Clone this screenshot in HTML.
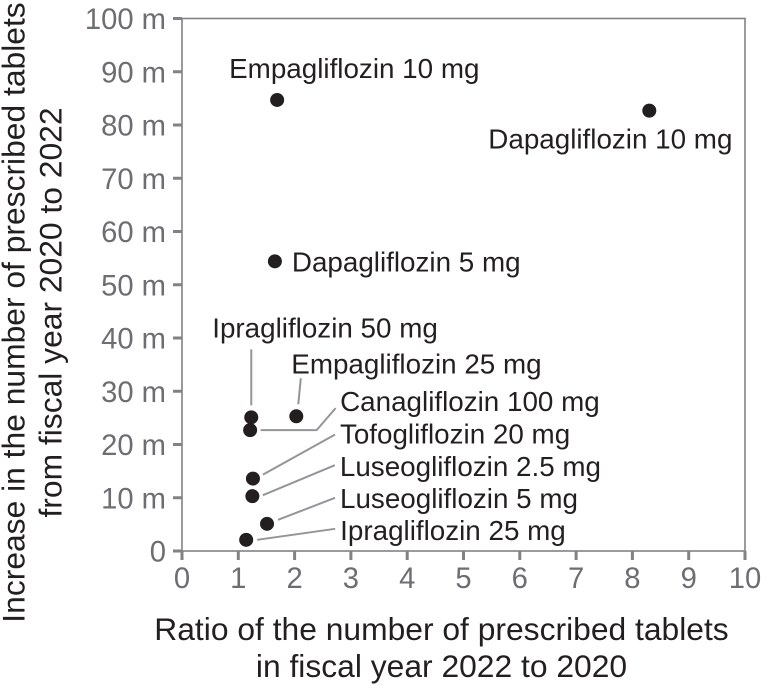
<!DOCTYPE html>
<html lang="en">
<head>
<meta charset="utf-8">
<title>Prescribed tablets scatter chart</title>
<style>
html,body{margin:0;padding:0;background:#fff;width:763px;height:685px;overflow:hidden}
svg{display:block;font-family:"Liberation Sans",sans-serif}
.tick{font-size:29.2px;fill:#6d6e71}
.lab{font-size:27.8px;fill:#231f20}
.title{font-size:31.8px;fill:#231f20}
</style>
</head>
<body>
<svg id="chart" width="763" height="685" viewBox="0 0 763 685" xmlns="http://www.w3.org/2000/svg">
  <text class="title" transform="translate(24.5 312.5) rotate(-90)" text-anchor="middle">Increase in the number of prescribed tablets</text>
  <text class="title" transform="translate(61.5 312.5) rotate(-90)" text-anchor="middle">from fiscal year 2020 to 2022</text>
  <text class="title" x="441.5" y="640" text-anchor="middle">Ratio of the number of prescribed tablets</text>
  <text class="title" x="441.5" y="677" text-anchor="middle">in fiscal year 2022 to 2020</text>
</svg>
<script>
const xTicks = [0, 1, 2, 3, 4, 5, 6, 7, 8, 9, 10];
const yTicks = [0, 10, 20, 30, 40, 50, 60, 70, 80, 90, 100];
const yTickLabels = ['0', '10 m', '20 m', '30 m', '40 m', '50 m', '60 m', '70 m', '80 m', '90 m', '100 m'];
const drugs = ['Empagliflozin 10 mg', 'Dapagliflozin 10 mg', 'Dapagliflozin 5 mg', 'Ipragliflozin 50 mg', 'Empagliflozin 25 mg', 'Canagliflozin 100 mg', 'Tofogliflozin 20 mg', 'Luseogliflozin 2.5 mg', 'Luseogliflozin 5 mg', 'Ipragliflozin 25 mg'];
const ratios = [1.69, 8.30, 1.65, 1.23, 2.03, 1.21, 1.26, 1.25, 1.51, 1.14];
const increases = [84.7, 82.7, 54.4, 25.1, 25.3, 22.7, 13.6, 10.3, 5.1, 2.1];

const plot = { left: 182, right: 745, top: 18.5, bottom: 551 };
const xScale = v => plot.left + (v / 10) * (plot.right - plot.left);
const yScale = v => plot.bottom - (v / 100) * (plot.bottom - plot.top);

// Annotation layout, relative to each point: label anchor and leader-line vertices.
const annotationLayout = [
  { tx: -48, ty: -22, leader: [] },
  { tx: -161, ty: 38, leader: [] },
  { tx: 17, ty: 10, leader: [] },
  { tx: -39, ty: -80, leader: [[0, -12], [0, -68]] },
  { tx: -5, ty: -43, leader: [[2, -12], [4.5, -38]] },
  { tx: 90, ty: -19, leader: [[10.5, 0], [66.5, 0], [85.5, -22]] },
  { tx: 87, ty: -35, leader: [[10, -4], [82, -44]] },
  { tx: 87.5, ty: -20, leader: [[10.5, -1], [82.5, -31]] },
  { tx: 73, ty: -16, leader: [[11, -4], [68, -26]] },
  { tx: 94, ty: 0, leader: [[11, 0], [89, -11]] }
];

const svg = document.getElementById('chart');
const NS = 'http://www.w3.org/2000/svg';
function make(tag, attrs, parent) {
  const el = document.createElementNS(NS, tag);
  for (const k in attrs) el.setAttribute(k, attrs[k]);
  (parent || svg).appendChild(el);
  return el;
}

const frame = make('rect', { x: plot.left, y: plot.top, width: plot.right - plot.left, height: plot.bottom - plot.top, fill: 'none', stroke: '#808285', 'stroke-width': 1.6 });



xTicks.forEach(v => {
  const x = xScale(v);
  const t = make('line', { x1: x, x2: x, y1: plot.bottom, y2: plot.bottom + 9, stroke: '#808285', 'stroke-width': 3 });
  
  
  const l = make('text', { x: x, y: plot.bottom + 37, 'text-anchor': 'middle', class: 'tick' });
  l.textContent = String(v);
  
  
});

yTicks.forEach((v, i) => {
  const y = yScale(v);
  const t = make('line', { x1: plot.left - 9, x2: plot.left, y1: y, y2: y, stroke: '#808285', 'stroke-width': 3 });
  
  
  const l = make('text', { x: 166, y: y + 10.5, 'text-anchor': 'end', class: 'tick' });
  l.textContent = yTickLabels[i];
  
  
});

drugs.forEach((name, i) => {
  const px = xScale(ratios[i]);
  const py = yScale(increases[i]);
  const layout = annotationLayout[i];
  if (layout.leader.length) {
    const line = make('polyline', { points: layout.leader.map(p => (px + p[0]) + ',' + (py + p[1])).join(' '), fill: 'none', stroke: '#939598', 'stroke-width': 2 });
    
    
  }
  const dot = make('circle', { cx: px, cy: py, r: 7, fill: '#231f20' });
  
  
  const label = make('text', { x: px + layout.tx, y: py + layout.ty, class: 'lab' });
  label.textContent = name;
  
  
});
</script>
</body>
</html>
